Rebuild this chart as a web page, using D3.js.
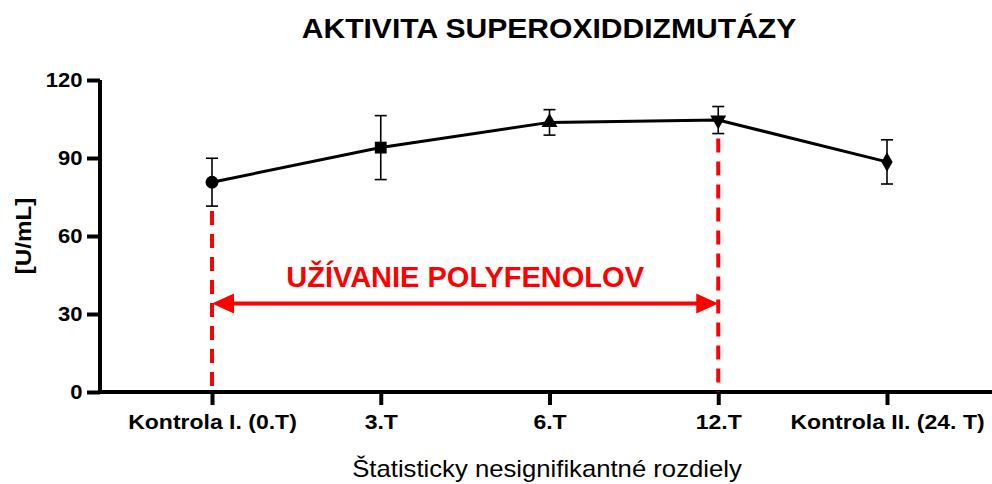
<!DOCTYPE html>
<html>
<head>
<meta charset="utf-8">
<script src="https://cdn.jsdelivr.net/npm/d3@7"></script>
<style>
  body { margin: 0; background: #fff; }
  text { font-family: "Liberation Sans", Arial, sans-serif; }
</style>
</head>
<body>
<svg id="chart"></svg>
<script>
const categories = ["Kontrola I. (0.T)", "3.T", "6.T", "12.T", "Kontrola II. (24. T)"];
const means = [80.7, 94, 103.7, 104.6, 88.5];
const errors = [9.2, 12.3, 4.9, 5.2, 8.5];
const markers = ["circle", "square", "triangle", "triangleDown", "diamond"];
const yTicks = [0, 30, 60, 90, 120];
const periodStart = 0;   // index of first category in the period
const periodEnd = 3;     // index of last category in the period
const arrowValue = 34;

const svg = d3.select("#chart")
    .attr("width", 992)
    .attr("height", 484);

const margins = {top: 80, right: 0, bottom: 92, left: 100};
const width = 992 - margins.left - margins.right;
const height = 484 - margins.top - margins.bottom;

const x = d3.scalePoint().domain(categories).range([112, 787]);
const y = d3.scaleLinear().domain([0, 120]).range([height, 0]);

const g = svg.append("g")
    .attr("transform", `translate(${margins.left}, ${margins.top})`);

// title
svg.append("text")
    .text("AKTIVITA SUPEROXIDDIZMUTÁZY")
    .attr("transform", "translate(549, 38) scale(1.075, 1)")
    .attr("text-anchor", "middle")
    .attr("font-size", 28)
    .attr("font-weight", "bold");

// y axis
const yAxis = g.append("g")
    .call(d3.axisLeft(y).tickValues(yTicks).tickSize(13).tickPadding(3));
yAxis.select(".domain").attr("stroke-width", 4).attr("d", `M0,${height + 2}V0`);
yAxis.selectAll(".tick line").attr("stroke-width", 4);
yAxis.selectAll(".tick text")
    .attr("font-size", 20)
    .attr("font-weight", "bold")
    .attr("font-family", "Liberation Sans, Arial, sans-serif")
    .attr("fill", "#000")
    .attr("transform", "scale(1.1, 1)");

svg.append("text")
    .text("[U/mL]")
    .attr("transform", `translate(31, ${margins.top + y(60)}) rotate(-90) scale(1.1, 1)`)
    .attr("text-anchor", "middle")
    .attr("font-size", 22)
    .attr("font-weight", "bold");

// x axis
const xAxis = g.append("g")
    .attr("transform", `translate(0, ${height})`)
    .call(d3.axisBottom(x).tickSize(13).tickPadding(10));
xAxis.select(".domain").attr("stroke-width", 4).attr("d", `M-2,0H${width}`);
xAxis.selectAll(".tick line").attr("stroke-width", 4);
xAxis.selectAll(".tick text")
    .attr("font-size", 20)
    .attr("font-weight", "bold")
    .attr("font-family", "Liberation Sans, Arial, sans-serif")
    .attr("fill", "#000")
    .attr("transform", "scale(1.15, 1)");

svg.append("text")
    .text("Štatisticky nesignifikantné rozdiely")
    .attr("transform", "translate(547, 477) scale(1.07, 1)")
    .attr("text-anchor", "middle")
    .attr("font-size", 24);

// red period markers
const redColor = "#ff0000";
[periodStart, periodEnd].forEach((i) => {
    const cx = x(categories[i]);
    g.append("line")
        .attr("x1", cx).attr("x2", cx)
        .attr("y1", y(means[i] - errors[i]) + 5).attr("y2", height)
        .attr("stroke", redColor)
        .attr("stroke-width", 4)
        .attr("stroke-dasharray", "14,9");
});

const ay = y(arrowValue);
const x0 = x(categories[periodStart]), x1 = x(categories[periodEnd]);
g.append("line")
    .attr("x1", x0 + 15).attr("x2", x1 - 15)
    .attr("y1", ay).attr("y2", ay)
    .attr("stroke", redColor)
    .attr("stroke-width", 4);
g.append("path")
    .attr("d", `M${x0},${ay}L${x0 + 22},${ay - 10}L${x0 + 22},${ay + 10}Z`)
    .attr("fill", redColor);
g.append("path")
    .attr("d", `M${x1},${ay}L${x1 - 22},${ay - 10}L${x1 - 22},${ay + 10}Z`)
    .attr("fill", redColor);
g.append("text")
    .text("UŽÍVANIE POLYFENOLOV")
    .attr("x", (x0 + x1) / 2)
    .attr("y", ay - 17)
    .attr("text-anchor", "middle")
    .attr("font-size", 29)
    .attr("font-weight", "bold")
    .attr("fill", redColor);

// error bars
const bars = g.append("g");
categories.forEach((c, i) => {
    const cx = x(c);
    const top = y(means[i] + errors[i]);
    const bot = y(means[i] - errors[i]);
    bars.append("line").attr("x1", cx).attr("x2", cx).attr("y1", top).attr("y2", bot);
    bars.append("line").attr("x1", cx - 6).attr("x2", cx + 6).attr("y1", top).attr("y2", top);
    bars.append("line").attr("x1", cx - 6).attr("x2", cx + 6).attr("y1", bot).attr("y2", bot);
});
bars.selectAll("line").attr("stroke", "#000").attr("stroke-width", 1.6);

// line
const line = d3.line()
    .x((d, i) => x(categories[i]))
    .y((d) => y(d));
g.append("path")
    .datum(means)
    .attr("d", line)
    .attr("fill", "none")
    .attr("stroke", "#000")
    .attr("stroke-width", 3);

// markers
const symbolFor = {
    circle: d3.symbol().type(d3.symbolCircle).size(130),
    square: d3.symbol().type(d3.symbolSquare).size(140),
    triangle: d3.symbol().type(d3.symbolTriangle).size(110),
    triangleDown: d3.symbol().type(d3.symbolTriangle).size(110),
    diamond: d3.symbol().type(d3.symbolDiamond).size(110)
};
g.selectAll(".marker")
    .data(means)
    .enter().append("path")
    .attr("class", "marker")
    .attr("d", (d, i) => symbolFor[markers[i]]())
    .attr("transform", (d, i) => {
        const rot = markers[i] === "triangleDown" ? " rotate(180)" : "";
        return `translate(${x(categories[i])}, ${y(d)})${rot}`;
    })
    .attr("fill", "#000");
</script>
</body>
</html>
